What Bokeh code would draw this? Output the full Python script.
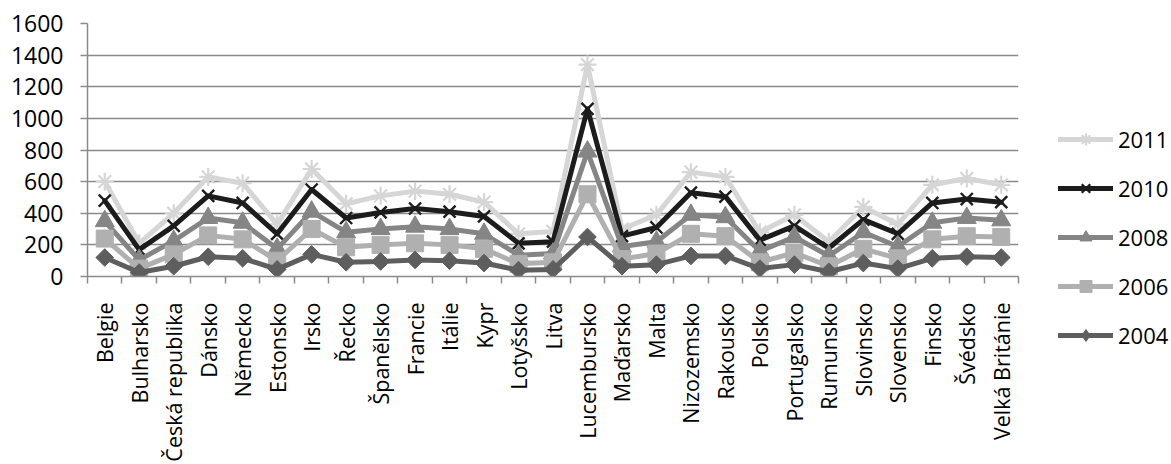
import numpy as np
from bokeh.plotting import figure
from bokeh.layouts import row
from bokeh.models import Range1d, FixedTicker, Legend, LegendItem, ColumnDataSource
from bokeh.embed import file_html
from bokeh.resources import INLINE

categories = ["Belgie", "Bulharsko", "Česká republika", "Dánsko", "Německo", "Estonsko",
              "Irsko", "Řecko", "Španělsko", "Francie", "Itálie", "Kypr", "Lotyšsko",
              "Litva", "Lucembursko", "Maďarsko", "Malta", "Nizozemsko", "Rakousko",
              "Polsko", "Portugalsko", "Rumunsko", "Slovinsko", "Slovensko", "Finsko",
              "Švédsko", "Velká Británie"]

v2011 = [600, 210, 400, 630, 590, 330, 680, 460, 510, 540, 520, 470, 270, 285, 1340,
         300, 390, 660, 630, 280, 390, 220, 440, 330, 580, 620, 580]
v2010 = [480, 170, 320, 510, 465, 270, 550, 370, 405, 430, 410, 380, 210, 220, 1060,
         255, 310, 530, 505, 230, 320, 180, 360, 270, 465, 490, 470]
v2008 = [350, 105, 225, 370, 340, 175, 410, 280, 300, 315, 300, 270, 135, 145, 790,
         190, 220, 390, 375, 160, 250, 130, 280, 190, 340, 370, 355]
v2006 = [240, 50, 140, 260, 235, 100, 300, 185, 200, 210, 200, 175, 80, 90, 520,
         110, 145, 270, 255, 90, 150, 65, 175, 115, 235, 255, 250]
v2004 = [120, 25, 65, 125, 115, 45, 140, 90, 95, 105, 100, 85, 40, 45, 250,
         65, 75, 130, 130, 50, 75, 30, 85, 50, 115, 125, 120]

series_names = ["2011", "2010", "2008", "2006", "2004"]
series_values = [v2011, v2010, v2008, v2006, v2004]
y_ticks = [0, 200, 400, 600, 800, 1000, 1200, 1400, 1600]

FONT = "Open Sans"
GRID = "#8A8A8A"
H = 464

xs = list(range(len(categories)))

p = figure(width=1038, height=H, output_backend="svg", toolbar_location=None,
           x_range=Range1d(-0.5, len(categories) - 0.5), y_range=Range1d(0, 1600),
           min_border_left=87, min_border_right=20, min_border_top=23,
           min_border_bottom=187)
p.outline_line_color = None
p.background_fill_color = "white"
p.border_fill_color = "white"

p.xgrid.visible = False
p.ygrid.grid_line_color = GRID
p.ygrid.grid_line_width = 1.5
p.ygrid.ticker = FixedTicker(ticks=y_ticks)

ya = p.yaxis[0]
ya.ticker = FixedTicker(ticks=y_ticks)
ya.axis_line_color = GRID
ya.axis_line_width = 1.5
ya.major_tick_line_color = GRID
ya.major_tick_line_width = 1.5
ya.major_tick_out = 7
ya.major_tick_in = 0
ya.minor_tick_line_color = None
ya.major_label_text_font = FONT
ya.major_label_text_font_size = "23px"
ya.major_label_text_color = "black"
ya.major_label_standoff = 17

xa = p.xaxis[0]
xa.ticker = FixedTicker(ticks=xs, minor_ticks=[i - 0.5 for i in range(len(categories) + 1)])
xa.major_label_overrides = {i: c for i, c in enumerate(categories)}
xa.axis_line_color = GRID
xa.axis_line_width = 1.5
xa.major_tick_line_color = None
xa.major_tick_out = 0
xa.major_tick_in = 0
xa.minor_tick_line_color = GRID
xa.minor_tick_line_width = 1.5
xa.minor_tick_out = 7
xa.minor_tick_in = 0
xa.major_label_orientation = np.pi / 2
xa.major_label_text_font = FONT
xa.major_label_text_font_size = "21.5px"
xa.major_label_text_color = "black"
xa.major_label_standoff = 19

styles = {
    "2011": dict(color="#D6D6D6", marker="asterisk", size=18, lw=2.2, angle=0.0,
                 lg_marker="asterisk", lg_size=18),
    "2010": dict(color="#1C1C1C", marker="x", size=17, lw=2.4, angle=0.0,
                 lg_marker="x", lg_size=17),
    "2008": dict(color="#858585", marker="triangle", size=19, lw=1, angle=0.0,
                 lg_marker="triangle", lg_size=19),
    "2006": dict(color="#B0B0B0", marker="square", size=17, lw=1, angle=0.0,
                 lg_marker="square", lg_size=17),
    "2004": dict(color="#5E5E5E", marker="square", size=12.5, lw=1, angle=np.pi / 4,
                 lg_marker="diamond", lg_size=19),
}

# legend holder: a narrow figure whose view range excludes the data
lg = figure(width=130, height=H, output_backend="svg", toolbar_location=None,
            x_range=Range1d(1000, 1001), y_range=Range1d(0, 1600),
            min_border_left=0, min_border_right=0, min_border_top=23, min_border_bottom=187,
            x_axis_type=None, y_axis_type=None)
lg.outline_line_color = None
lg.xgrid.visible = False
lg.ygrid.visible = False
lg.background_fill_color = "white"
lg.border_fill_color = "white"

items = []
for name, vals in zip(series_names, series_values):
    st = styles[name]
    src = ColumnDataSource(dict(x=xs, y=vals))
    p.line("x", "y", source=src, line_color=st["color"], line_width=5,
           line_join="round", line_cap="round")
    p.scatter("x", "y", source=src, marker=st["marker"], size=st["size"],
              fill_color=st["color"], line_color=st["color"], line_width=st["lw"],
              angle=st["angle"])
    ln = lg.line("x", "y", source=src, line_color=st["color"], line_width=5,
                 line_cap="round")
    sc = lg.scatter("x", "y", source=src, marker=st["lg_marker"], size=st["lg_size"],
                    fill_color=st["color"], line_color=st["color"], line_width=st["lw"])
    items.append(LegendItem(label=name, renderers=[ln, sc], index=0))

legend = Legend(items=items, location=(20, -74), border_line_color=None,
                background_fill_alpha=0, glyph_width=55, glyph_height=30,
                label_height=30, spacing=19, padding=0, margin=0, label_standoff=5,
                label_text_font=FONT, label_text_font_size="22px",
                label_text_color="black")
lg.add_layout(legend, "left")

layout = row(p, lg, spacing=0)
open("out.html", "w").write(file_html(layout, INLINE))
